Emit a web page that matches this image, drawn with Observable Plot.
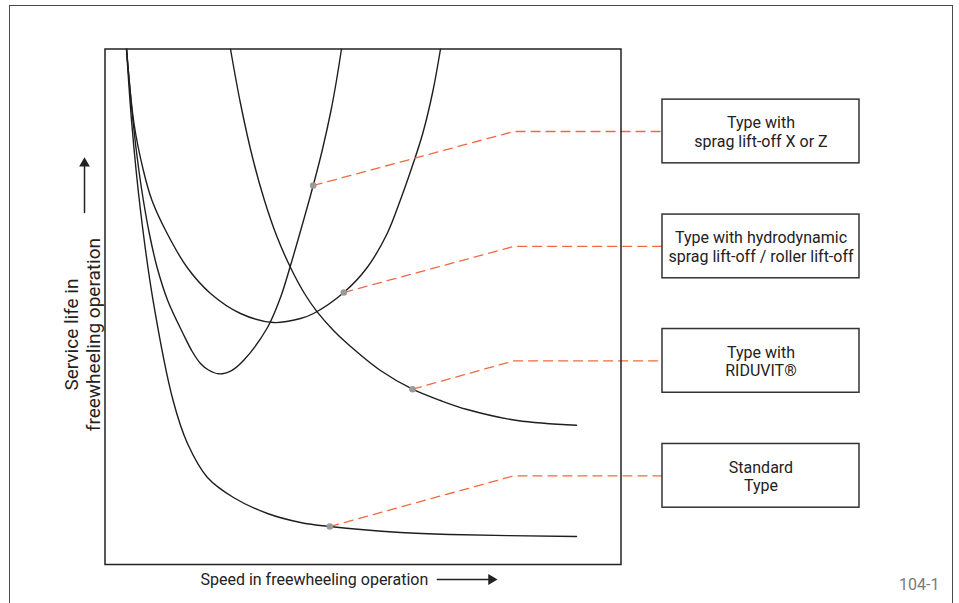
<!DOCTYPE html>
<html><head><meta charset="utf-8">
<script src="https://cdn.jsdelivr.net/npm/d3@7"></script>
<script src="https://cdn.jsdelivr.net/npm/@observablehq/plot@0.6"></script>
<style>
html,body{margin:0;padding:0;background:#fff;overflow:hidden;width:959px;height:603px;}
#wrap{position:relative;width:959px;height:603px;}
#outer{position:absolute;left:8.75px;top:5.25px;width:942.5px;height:640px;border:1.5px solid #4a4a4a;pointer-events:none;}
#chart svg{display:block;background:transparent;}
</style></head><body><div id="wrap"><div id="chart"></div><div id="outer"></div></div>
<script>
// ---- data (relative units: speed 0..100, service life 0..100) ----
const seriesNames = ["Standard Type", "Type with sprag lift-off X or Z", "Type with hydrodynamic sprag lift-off / roller lift-off", "Type with RIDUVIT®"];
const standardPts = [[4.17,100],[5.19,85.55],[6.88,68.67],[9.32,51.21],[13.20,31.81],[15.99,23.47],[19.86,16.88],[24.90,13.00],[31.49,9.89],[37.89,8.15],[43.57,7.37],[57.27,6.21],[66.96,5.82],[91.38,5.43]];
const liftXZPts = [[4.17,100],[5.47,85.55],[6.57,76.43],[7.44,70.61],[8.59,64.21],[10.10,57.61],[12.15,51.21],[15.21,44.62],[16.96,41.22],[18.51,38.99],[20.06,37.73],[22.05,36.99],[24.52,37.63],[26.84,39.57],[31.49,45.97],[34.01,51.79],[35.95,58.00],[38.47,66.73],[40.35,73.52],[42.09,80.31],[43.80,88.07],[44.86,93.89],[45.83,100]];
const hydroPts = [[4.17,100],[5.62,85.55],[7.44,76.43],[9.11,70.61],[12.05,64.21],[15.93,57.61],[20.45,52.57],[26.26,48.69],[32.66,46.94],[37.89,47.72],[40.41,48.69],[46.28,52.76],[50.81,57.61],[54.69,64.21],[57.21,70.61],[59.79,77.98],[61.63,83.80],[63.57,91.95],[65.02,100]];
const riduvitPts = [[24.32,100],[26.26,89.43],[28.59,78.95],[30.91,70.61],[33.24,63.82],[35.95,57.61],[38.66,52.57],[41.12,49.00],[44.28,45.39],[46.94,42.87],[53.39,37.63],[59.59,34.01],[65.02,31.81],[70.19,30.07],[79.88,27.93],[91.38,27.02]];
const markerX = [43.57, 40.35, 46.28, 59.59];
const markerY = [7.37, 73.52, 52.76, 34.01];
const boxLabels = ["Standard\nType", "Type with\nsprag lift-off X or Z", "Type with hydrodynamic\nsprag lift-off / roller lift-off", "Type with\nRIDUVIT®"];
const xLabel = "Speed in freewheeling operation";
const yLabel = "Service life in\nfreewheeling operation";
const figureCode = "104-1";

// ---- layout ----
const boxCenterY = [17.2, 84.0, 61.7, 39.5];
const elbowX = 79.22, boxX1 = 108.04, boxX2 = 146.22, boxHalfH = 6.18;

const curves = [standardPts, liftXZPts, hydroPts, riduvitPts].flatMap((pts, i) =>
  pts.map(([x, y]) => ({series: seriesNames[i], x, y})));
const leaders = markerX.flatMap((mx, i) => [
  {k: i, x: mx, y: markerY[i]},
  {k: i, x: elbowX, y: boxCenterY[i]},
  {k: i, x: boxX1, y: boxCenterY[i]}
]);
const markers = markerX.map((x, i) => ({x, y: markerY[i]}));
const boxes = boxLabels.map((label, i) => ({label, y: boxCenterY[i]}));

const chart = Plot.plot({
  width: 959, height: 603,
  marginLeft: 104.5, marginRight: 338.5, marginTop: 48.5, marginBottom: 39,
  x: {domain: [0, 100], axis: null},
  y: {domain: [0, 100], axis: null},
  style: {fontFamily: "Roboto, 'Open Sans', sans-serif", fontSize: "16px", color: "#222", background: "transparent"},
  marks: [
    Plot.line(curves, {x: "x", y: "y", z: "series", stroke: "#1e1e1e", strokeWidth: 1.4, curve: "catmull-rom", clip: true}),
    Plot.line(leaders, {x: "x", y: "y", z: "k", stroke: "#ef6a43", strokeWidth: 1.3, strokeDasharray: "9,6"}),
    Plot.dot(markers, {x: "x", y: "y", r: 3.3, fill: "#9a9a9a", stroke: "none"}),
    Plot.frame({stroke: "#222", strokeWidth: 1.5}),
    Plot.rect(boxes, {x1: () => boxX1, x2: () => boxX2, y1: d => d.y - boxHalfH, y2: d => d.y + boxHalfH, fill: "white", stroke: "#333", strokeWidth: 1.5}),
    Plot.text(boxes, {x: () => (boxX1 + boxX2) / 2, y: "y", text: "label", lineHeight: 1.15, fontSize: 16, fill: "#222"}),
    // x-axis label + arrow
    Plot.text([xLabel], {x: () => 18.5, y: () => -2.91, text: d => d, textAnchor: "start", fontSize: 16, fill: "#222"}),
    Plot.line([[64.4, -2.91], [74.5, -2.91]], {x: d => d[0], y: d => d[1], stroke: "#222", strokeWidth: 1.5}),
    Plot.dot([[74.87, -2.91]], {x: d => d[0], y: d => d[1], symbol: "triangle", rotate: 90, r: 4, fill: "#222", stroke: "none"}),
    // y-axis label + arrow
    Plot.text([yLabel], {x: () => -4.41, y: () => 44.6, text: d => d, rotate: -90, lineHeight: 1.13, fontSize: 19, fill: "#222"}),
    Plot.line([[-3.97, 68.3], [-3.97, 77.2]], {x: d => d[0], y: d => d[1], stroke: "#222", strokeWidth: 1.5}),
    Plot.dot([[-3.97, 77.8]], {x: d => d[0], y: d => d[1], symbol: "triangle", r: 4, fill: "#222", stroke: "none"}),
    // figure code
    Plot.text([figureCode], {x: () => 161.7, y: () => -3.88, text: d => d, textAnchor: "end", fontSize: 16, fill: "#7a7a7a"})
  ]
});
document.getElementById("chart").appendChild(chart);
</script></body></html>
